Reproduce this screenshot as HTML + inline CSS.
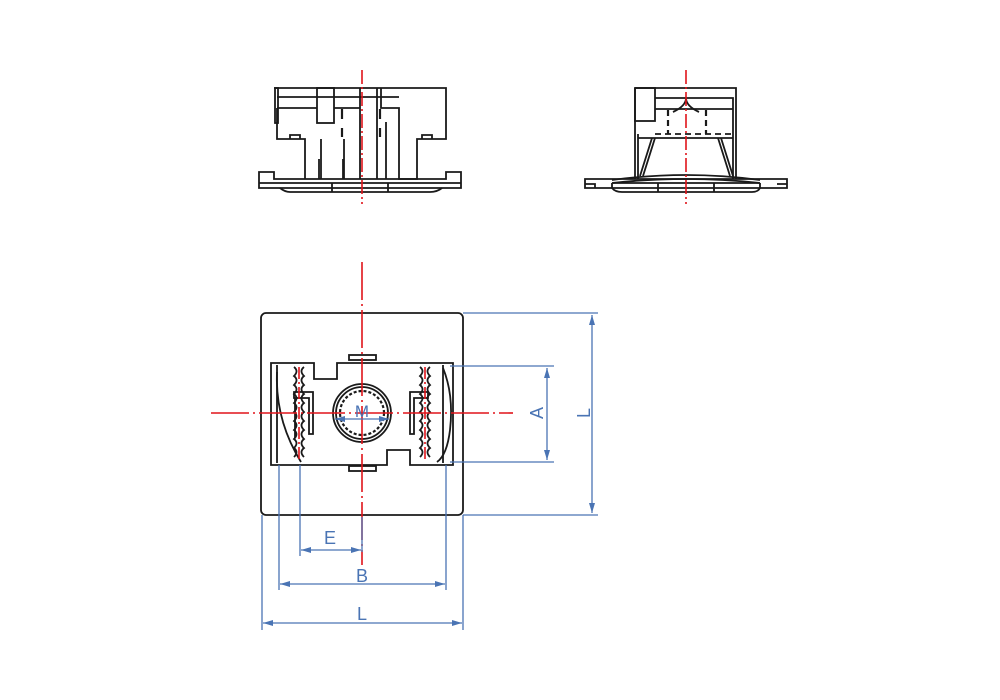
<!DOCTYPE html>
<html><head><style>body{margin:0;background:#fff}svg{display:block}</style></head><body>
<svg width="1000" height="700" viewBox="0 0 1000 700" xmlns="http://www.w3.org/2000/svg">
<defs>
<marker id="ar" viewBox="0 0 10 6" refX="10" refY="3" markerWidth="10" markerHeight="6" orient="auto-start-reverse" markerUnits="userSpaceOnUse"><path d="M0,0L10,3L0,6z" fill="#4a74b4"/></marker>
</defs>
<g fill="none" stroke="#1a1a1a" stroke-width="1.8">
<path d="M274,88H446V139H417V179H399V108H381V88"/>
<rect x="275" y="88" width="3" height="35"/>
<path d="M277,97H399M277,108H317M334,108H360M277,108V139H305V179M305,139V179"/>
<rect x="317" y="88" width="17" height="35"/>
<path d="M321,139V179M344,139V179M360,88V179M377,88V179M386,122V179"/>
<path d="M319,159V179M343,159V179"/>
<path d="M290,139v-4h10v4M422,139v-4h10v4"/>
<path d="M259,172H274V179H446V172H461V188H259Z"/>
<path d="M259,183H461M332,183V192M388,183V192M280,188Q285,192 290,192H430Q437,192 442,188"/>
<path d="M342,109V119M342,128V137M380,109V119M380,128V137" stroke-width="2.2"/>
<path d="M635,88H736V179M635,88V179"/>
<rect x="635" y="88" width="20" height="33"/>
<path d="M655,98H733V179M655,109H733M638,138H733M638,134V179"/>
<path d="M673,112Q686,106 686,98Q686,106 699,112"/>
<path d="M655,134H733" stroke-dasharray="6,4"/>
<path d="M668,110V134M706,110V134" stroke-dasharray="6,4" stroke-width="2.2"/>
<path d="M652,138L640,176M655,138L643,176M721,138L733,176M718,138L730,176"/>
<path d="M585,179H787V188H585Z"/>
<path d="M613,183H759M585,184H595V188M777,184H787"/>
<path d="M612,180Q686,170 760,180M612,183Q686,175 760,183"/>
<path d="M612,183V188Q615,192 622,192H752Q758,192 760,188V183M658,183V192M714,183V192"/>
<rect x="261" y="313" width="202" height="202" rx="5"/>
<path d="M271,363H314V379H337V363H453V465H410V450H387V465H271Z"/>
<path d="M277,365V463M443,365V463"/>
<path d="M277,372Q275,420 301,462M443,368Q454,395 450,430Q447,455 437,462" />
<rect x="349" y="355" width="27" height="5"/>
<rect x="349" y="466" width="27" height="5"/>
<circle cx="362" cy="413" r="29"/>
<circle cx="362" cy="413" r="26"/>
<circle cx="362" cy="413" r="22" stroke-dasharray="3,2" stroke-width="2.2"/>
<path d="M294,392H313V434H309V398H294ZM295,398V438M428,392H410V434H414V398H428Z"/>
<path d="M294,367q5,4 0,9q5,4 0,9q5,4 0,9q5,4 0,9q5,4 0,9q5,4 0,9q5,4 0,9q5,4 0,9q5,4 0,9q5,4 0,9M304,367q-5,4 0,9q-5,4 0,9q-5,4 0,9q-5,4 0,9q-5,4 0,9q-5,4 0,9q-5,4 0,9q-5,4 0,9q-5,4 0,9q-5,4 0,9"/>
<path d="M420,367q5,4 0,9q5,4 0,9q5,4 0,9q5,4 0,9q5,4 0,9q5,4 0,9q5,4 0,9q5,4 0,9q5,4 0,9q5,4 0,9M430,367q-5,4 0,9q-5,4 0,9q-5,4 0,9q-5,4 0,9q-5,4 0,9q-5,4 0,9q-5,4 0,9q-5,4 0,9q-5,4 0,9q-5,4 0,9"/>
</g>
<g stroke="#e0141a" stroke-width="1.6" fill="none">
<path d="M362,70V204" stroke-dasharray="14,3,2,3"/>
<path d="M686,70V204" stroke-dasharray="14,3,2,3"/>
<path d="M362,262V565" stroke-dasharray="38,4,2,4"/>
<path d="M211,413H513" stroke-dasharray="38,4,2,4"/>
<path d="M299,367V462M425,367V462" stroke-dasharray="12,3,2,3"/>
</g>
<g stroke="#4a74b4" stroke-width="1.3" fill="none">
<path d="M463,313H598M463,515H598M450,366H554M450,462H554"/>
<path d="M547,368V460" marker-start="url(#ar)" marker-end="url(#ar)"/>
<path d="M592,315V513" marker-start="url(#ar)" marker-end="url(#ar)"/>
<path d="M262,515V630M463,515V630M279,465V590M446,465V590M300,465V556M362,517V552"/>
<path d="M301,550H361" marker-start="url(#ar)" marker-end="url(#ar)"/>
<path d="M280,584H445" marker-start="url(#ar)" marker-end="url(#ar)"/>
<path d="M263,623H462" marker-start="url(#ar)" marker-end="url(#ar)"/>
<path d="M335,419H389" marker-start="url(#ar)" marker-end="url(#ar)"/>
</g>
<g fill="#4a74b4" font-family="Liberation Sans, sans-serif" font-size="18" text-anchor="middle">
<text x="330" y="544">E</text>
<text x="362" y="582">B</text>
<text x="362" y="620">L</text>
<text x="362" y="417" font-size="17">M</text>
<text transform="translate(543,413) rotate(-90)">A</text>
<text transform="translate(590,413) rotate(-90)">L</text>
</g>
</svg>
</body></html>
